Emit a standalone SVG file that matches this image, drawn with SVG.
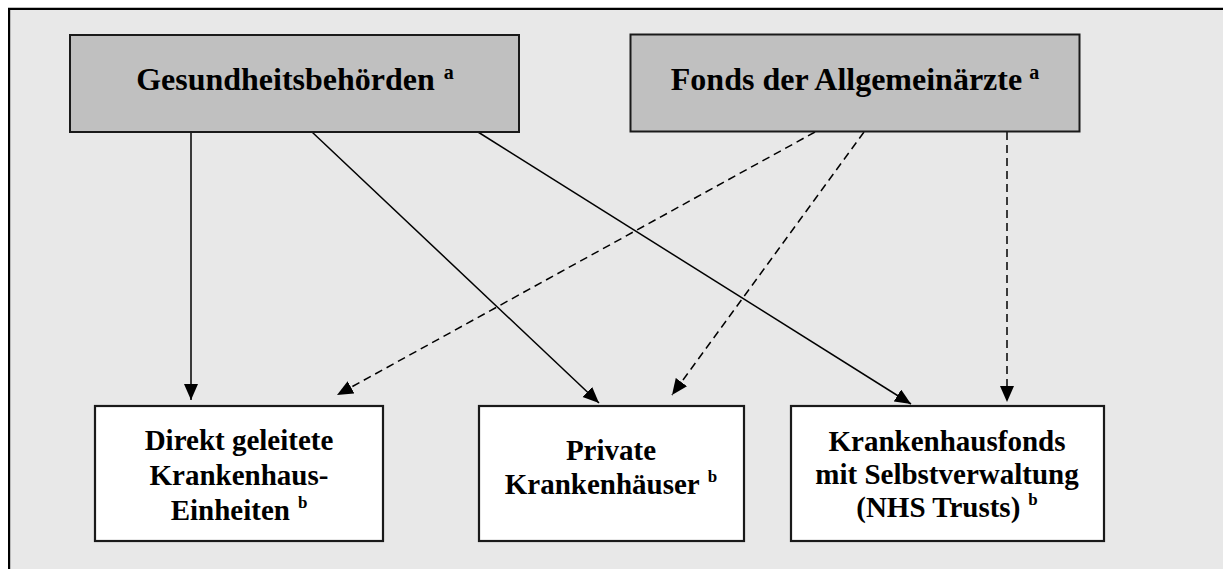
<svg xmlns="http://www.w3.org/2000/svg" width="1223" height="569" viewBox="0 0 1223 569">
  <style>
    .frame { fill: #e8e8e8; }
    .edge { stroke: #000; stroke-width: 2.2; }
    .box-top { fill: #c0c0c0; stroke: #1a1a1a; stroke-width: 2; }
    .box-bot { fill: #ffffff; stroke: #1a1a1a; stroke-width: 2.2; }
    .t { font-family: 'Liberation Serif', 'DejaVu Serif', serif; font-weight: bold; fill: #000; text-anchor: middle; }
    .big { font-size: 32px; }
    .mid { font-size: 29px; }
    .sup1 { font-size: 20px; }
    .sup2 { font-size: 17px; }
    .solid { stroke: #000; stroke-width: 1.5; fill: none; marker-end: url(#arrow); }
    .dashed { stroke: #000; stroke-width: 1.5; fill: none; stroke-dasharray: 8 5; marker-end: url(#arrow); }
  </style>
  <defs>
    <marker id="arrow" markerUnits="userSpaceOnUse" markerWidth="17" markerHeight="15" refX="16" refY="7" orient="auto">
      <path d="M0,0 L16,7 L0,14 z" fill="#000"/>
    </marker>
  </defs>

  <!-- page and framed panel -->
  <rect x="0" y="0" width="1223" height="569" fill="#ffffff"/>
  <rect class="frame" x="9" y="9" width="1214" height="560"/>
  <line class="edge" x1="8" y1="8.9" x2="1223" y2="8.9"/>
  <line class="edge" x1="9.1" y1="8" x2="9.1" y2="569"/>

  <!-- funding / management links -->
  <g id="connectors">
    <line class="solid" x1="191" y1="132" x2="191" y2="400"/>
    <line class="solid" x1="312" y1="132" x2="599" y2="403"/>
    <line class="solid" x1="478" y1="132" x2="911" y2="404"/>
    <line class="dashed" x1="815" y1="132" x2="337" y2="395"/>
    <line class="dashed" x1="864" y1="132" x2="672" y2="395"/>
    <line class="dashed" x1="1007" y1="132" x2="1007" y2="402"/>
  </g>

  <g id="gesundheitsbehoerden">
    <rect class="box-top" x="70" y="35" width="449" height="97"/>
    <text class="t big" x="295" y="90">Gesundheitsbehörden<tspan class="sup1" dx="9" dy="-11">a</tspan></text>
  </g>

  <g id="fonds-allgemeinaerzte">
    <rect class="box-top" x="630.5" y="34.5" width="449" height="97"/>
    <text class="t big" x="855" y="90">Fonds der Allgemeinärzte<tspan class="sup1" dx="7" dy="-11">a</tspan></text>
  </g>

  <g id="direkt-geleitete">
    <rect class="box-bot" x="95" y="406" width="288" height="135"/>
    <text class="t mid" x="239" y="450">Direkt geleitete</text>
    <text class="t mid" x="239" y="485">Krankenhaus-</text>
    <text class="t mid" x="239" y="520">Einheiten<tspan class="sup2" dx="8" dy="-12">b</tspan></text>
  </g>

  <g id="private-krankenhaeuser">
    <rect class="box-bot" x="479" y="406" width="265" height="135"/>
    <text class="t mid" x="611" y="460">Private</text>
    <text class="t mid" x="611" y="494">Krankenhäuser<tspan class="sup2" dx="8" dy="-12">b</tspan></text>
  </g>

  <g id="nhs-trusts">
    <rect class="box-bot" x="791" y="406" width="313" height="135"/>
    <text class="t mid" x="947" y="451">Krankenhausfonds</text>
    <text class="t mid" x="947" y="484">mit Selbstverwaltung</text>
    <text class="t mid" x="947" y="517">(NHS Trusts)<tspan class="sup2" dx="8" dy="-12">b</tspan></text>
  </g>
</svg>
